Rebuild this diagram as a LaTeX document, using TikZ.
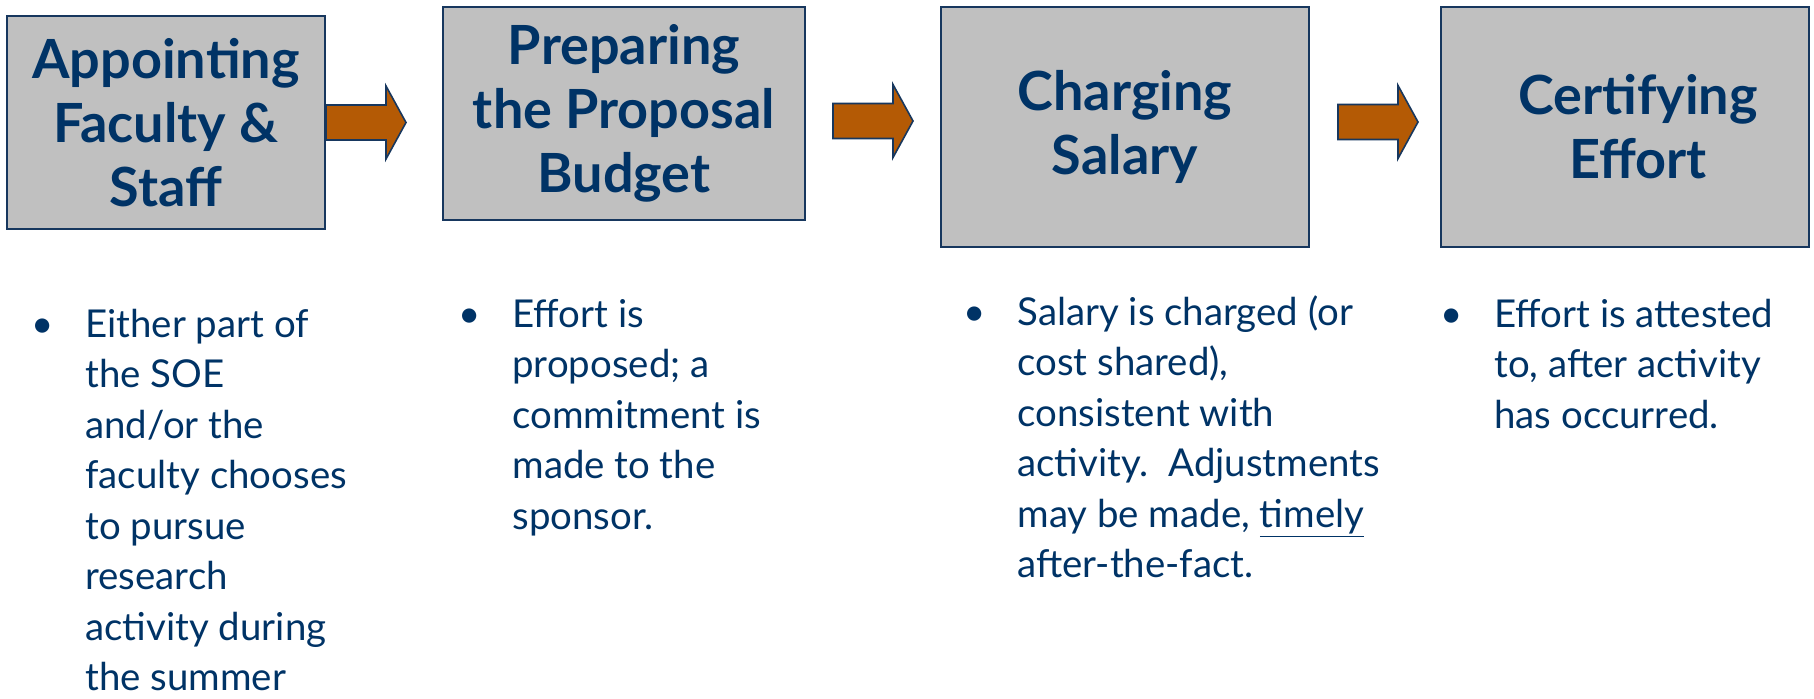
\documentclass[tikz,border=0pt]{standalone}
\usepackage{fontspec}
\setmainfont{Lato}
\usetikzlibrary{calc,positioning}
\definecolor{navy}{RGB}{0,51,102}
\definecolor{edgeblue}{RGB}{23,55,94}
\definecolor{boxgray}{RGB}{192,192,192}
\definecolor{rust}{RGB}{180,90,5}
\tikzset{
  stage/.style={rectangle,draw=edgeblue,fill=boxgray,line width=1pt,align=center,text=navy,inner sep=0pt,
    font=\fontsize{27}{32}\selectfont\bfseries},
  % notes hang from the baseline of their last line
  note/.style={anchor=base west,align=left,text=navy,inner sep=0pt,font=\fontsize{19.2}{25.25}\selectfont},
  bulletmark/.style={anchor=base,text=navy,inner sep=0pt,font=\fontsize{19.2}{25.25}\selectfont},
  blockarrow/.pic={
    \draw[fill=rust,draw=edgeblue,line width=0.8pt,line join=miter]
      (0,-17.5) -- (60,-17.5) -- (60,-36.5) -- (80,0) -- (60,36.5) -- (60,17.5) -- (0,17.5) -- cycle;}
}
\begin{document}
\begin{tikzpicture}[x=0.5pt,y=-0.5pt]
  \useasboundingbox (0,0) rectangle (1814,698);

  % the four stages
  \node[stage,minimum width=159pt,minimum height=106.5pt] (appoint) at (166,122.5) {Appointing\\Faculty \&\\Staff};
  \node[stage,minimum width=181pt,minimum height=106.5pt] (budget) at (624,113.5) {Preparing\\the Proposal\\Budget};
  \node[stage,minimum width=184pt,minimum height=120pt] (charge) at (1125,127) {Charging\\Salary};
  \node[stage,minimum width=184pt,minimum height=120pt] (certify) at (1625,127) {\hspace*{13pt}Certifying\\\hspace*{13pt}Effort};

  % block arrows between stages
  \pic at (appoint.east) {blockarrow};
  \pic at ($(budget.east)+(27,7.5)$) {blockarrow};
  \pic at ($(charge.east)+(28,-5)$) {blockarrow};

  % notes under each stage
  \node[bulletmark] (b1) at (43,337) {\textbullet};
  \node[note] (n1) at (85,690.5) {Either part of\\the SOE\\and/or the\\faculty chooses\\to pursue\\research\\activity during\\the summer};
  \node[bulletmark] (b2) at (470,327) {\textbullet};
  \node[note] (n2) at (512,529) {Effort is\\proposed; a\\commitment is\\made to the\\sponsor.};
  \node[bulletmark] (b3) at (975,325) {\textbullet};
  \node[note] (n3) at (1017,577.5) {Salary is charged (or\\cost shared),\\consistent with\\activity.\ \ Adjustments\\may be made, \underline{timely}\\after-the-fact.};
  \node[bulletmark] (b4) at (1452,327) {\textbullet};
  \node[note] (n4) at (1494,428) {Effort is attested\\to, after activity\\has occurred.};
\end{tikzpicture}
\end{document}
